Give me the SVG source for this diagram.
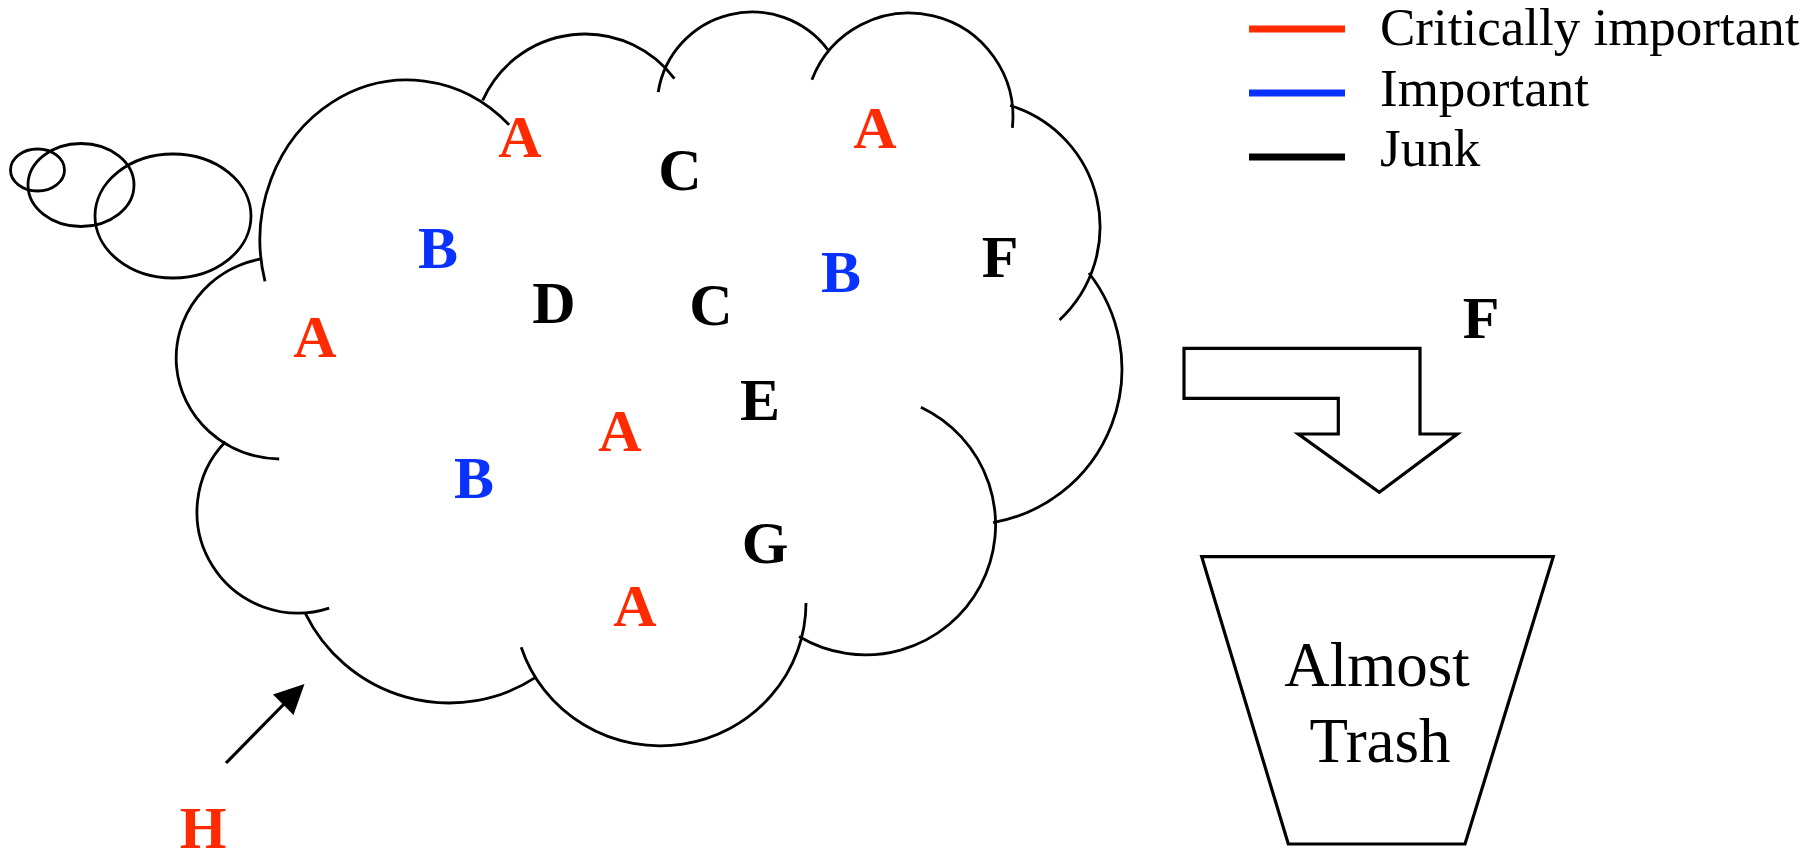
<svg xmlns="http://www.w3.org/2000/svg" width="1819" height="857" viewBox="0 0 1819 857">
<style>
.ln{fill:none;stroke:#000;stroke-width:2.8;stroke-linecap:butt}
.sh{fill:none;stroke:#000;stroke-width:3.2;stroke-linejoin:miter}
.lt{font-family:"Liberation Serif","Times New Roman",serif;font-weight:bold;font-size:60px;text-anchor:middle}
.r{fill:#ff2a00}.b{fill:#0a32ff}.k{fill:#000}
.lg{font-family:"Liberation Serif","Times New Roman",serif;font-size:53px;fill:#000}
.tr{font-family:"Liberation Serif","Times New Roman",serif;font-size:63px;fill:#000;text-anchor:middle}
</style>
<rect width="1819" height="857" fill="#fff"/>
<g id="cloud">
<ellipse class="ln" cx="37.5" cy="170" rx="27" ry="21"/>
<ellipse class="ln" cx="81" cy="185" rx="53" ry="41.5"/>
<ellipse class="ln" cx="173" cy="216" rx="78" ry="62"/>
<path class="ln" d="M265,281.4 A147,160 0 0 1 509.1,124.9"/>
<path class="ln" d="M482.7,100.4 A112,112 0 0 1 674.4,78.6"/>
<path class="ln" d="M658.2,92.1 A95,95 0 0 1 827.9,49.8"/>
<path class="ln" d="M811.9,79.7 A104,104 0 0 1 1012.4,127.9"/>
<path class="ln" d="M1010.1,105.5 A127,127 0 0 1 1059.6,319.9"/>
<path class="ln" d="M1088.9,273 A156,156 0 0 1 993.1,522.6"/>
<path class="ln" d="M920.9,407.2 A130,130 0 1 1 799,636.5"/>
<path class="ln" d="M806,603 A146,143 0 0 1 521.2,647.2"/>
<path class="ln" d="M536.1,677.2 A160,160 0 0 1 305.2,613.1"/>
<path class="ln" d="M329.2,608.1 A101,101 0 0 1 225.4,441.8"/>
<path class="ln" d="M279.2,459 A105,101 0 0 1 261,258.9"/>
</g>
<g id="n-a1"><text class="lt r" x="520" y="157">A</text></g>
<g id="n-c1"><text class="lt k" x="680" y="190">C</text></g>
<g id="n-a2"><text class="lt r" x="875" y="148">A</text></g>
<g id="n-b1"><text class="lt b" x="438" y="268">B</text></g>
<g id="n-d"><text class="lt k" x="554" y="323">D</text></g>
<g id="n-c2"><text class="lt k" x="711" y="325">C</text></g>
<g id="n-b2"><text class="lt b" x="841" y="292">B</text></g>
<g id="n-f1"><text class="lt k" x="1000" y="277">F</text></g>
<g id="n-a3"><text class="lt r" x="315" y="357">A</text></g>
<g id="n-e"><text class="lt k" x="760" y="420">E</text></g>
<g id="n-a4"><text class="lt r" x="620" y="451">A</text></g>
<g id="n-b3"><text class="lt b" x="474" y="498">B</text></g>
<g id="n-g"><text class="lt k" x="765" y="563">G</text></g>
<g id="n-a5"><text class="lt r" x="635" y="626">A</text></g>
<g id="n-h"><text class="lt r" x="203" y="848">H</text></g>
<g id="n-f2"><text class="lt k" x="1481" y="338">F</text></g>
<g id="legend">
<line x1="1249" y1="29" x2="1345" y2="29" stroke="#ff2a00" stroke-width="7"/>
<line x1="1249" y1="93" x2="1345" y2="93" stroke="#0a32ff" stroke-width="7"/>
<line x1="1249" y1="157" x2="1345" y2="157" stroke="#000" stroke-width="7"/>
<text class="lg" x="1380" y="45">Critically important</text>
<text class="lg" x="1380" y="106">Important</text>
<text class="lg" x="1380" y="166">Junk</text>
</g>
<g id="bent-arrow">
<polygon class="sh" points="1184,348.3 1420,348.3 1420,434 1457.3,434 1379.3,492.3 1298.3,434 1338.3,434 1338.3,398.3 1184,398.3"/>
</g>
<g id="trash">
<polygon class="sh" points="1201.7,556.7 1553.3,556.7 1465,844 1288.3,844"/>
<text class="tr" x="1377" y="686">Almost</text>
<text class="tr" x="1380" y="762">Trash</text>
</g>
<g id="connectors">
<line x1="226" y1="763" x2="285" y2="703" stroke="#000" stroke-width="3.2"/>
<polygon points="304.5,684 273,694.6 293.5,715" fill="#000"/>
</g>
</svg>
